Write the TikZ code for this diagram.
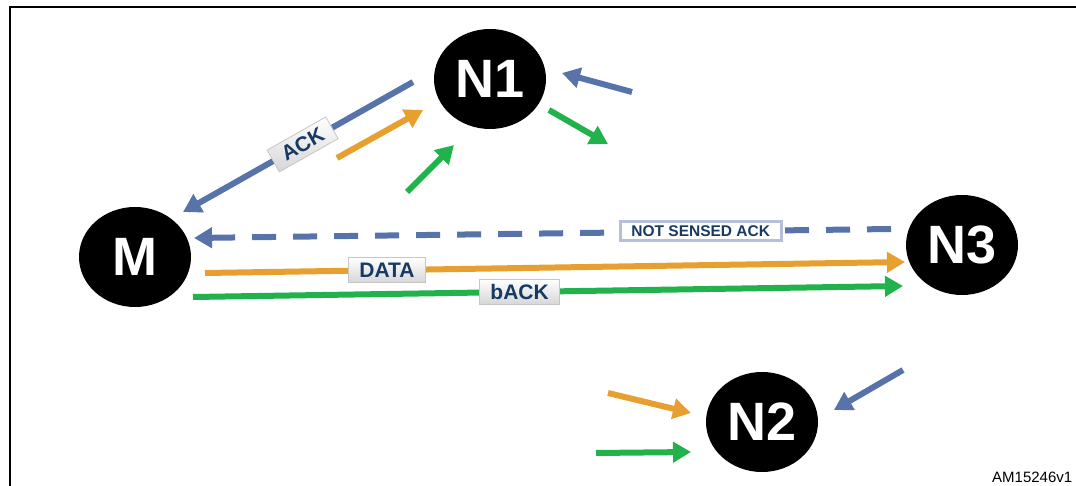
\documentclass[tikz,border=0pt]{standalone}
\usepackage{fontspec}
\setmainfont{Liberation Sans}
\usetikzlibrary{arrows.meta,shapes.geometric}

\definecolor{ackblue}{RGB}{88,114,170}
\definecolor{dataorange}{RGB}{231,160,48}
\definecolor{backgreen}{RGB}{34,178,76}
\definecolor{labelnavy}{RGB}{22,58,100}
\definecolor{tagrim}{RGB}{182,190,216}

\tikzset{
  station/.style={ellipse,fill=black,minimum width=112pt,minimum height=100pt,
    inner sep=0pt,text=white,font=\bfseries\fontsize{54}{54}\selectfont},
  msg/.style={line width=6pt,-{Triangle[length=18pt,width=20pt]}},
  tag/.style={solid,draw=gray!45,line width=0.8pt,top color=white,bottom color=gray!32,
    text=labelnavy,font=\bfseries\fontsize{21}{21}\selectfont,
    inner xsep=11pt,inner ysep=0pt,minimum height=25pt},
  nstag/.style={solid,draw=tagrim,line width=3pt,fill=white,text=labelnavy,
    font=\bfseries\fontsize{15.5}{15.5}\selectfont,inner xsep=11pt,inner ysep=0pt,
    minimum height=19pt}
}

\begin{document}
\begin{tikzpicture}[x=1pt,y=-1pt]
    \useasboundingbox (0,0) rectangle (1076,486);
    % kader
    \draw[line width=2pt] (10,486) -- (10,7) -- (1076,7);
    % stations
    \node[station] (m) at (135,257) {M};
    \node[station] (n1) at (490,79) {N1};
    \node[station] (n2) at (762,422) {N2};
    \node[station] (n3) at (962,245) {N3};
    % coordinaten
    \coordinate (ackA) at (413,82);
    \coordinate (ackB) at (183,212);
    \coordinate (nsA) at (891,229);
    \coordinate (nsB) at (194,238);
    \coordinate (b1A) at (632,92);
    \coordinate (b1B) at (562,73);
    \coordinate (b2A) at (903,370);
    \coordinate (b2B) at (834,410);
    \coordinate (dataA) at (205,273);
    \coordinate (dataB) at (905,262);
    \coordinate (o1A) at (337,158);
    \coordinate (o1B) at (423,110);
    \coordinate (o2A) at (608,393);
    \coordinate (o2B) at (691,413);
    \coordinate (backA) at (193,297);
    \coordinate (backB) at (903,286);
    \coordinate (g1A) at (407,192);
    \coordinate (g1B) at (454,145);
    \coordinate (g2A) at (549,110);
    \coordinate (g2B) at (608,144);
    \coordinate (g3A) at (596,453);
    \coordinate (g3B) at (691,452);
    % ack (blauw)
    \draw[msg,ackblue] (ackA) -- node[tag,sloped,pos=0.48] {ACK} (ackB);
    \draw[msg,ackblue,dash pattern=on 24pt off 17pt] (nsA) -- node[nstag,pos=0.273] {NOT SENSED ACK} (nsB);
    \draw[msg,ackblue] (b1A) -- (b1B);
    \draw[msg,ackblue] (b2A) -- (b2B);
    % data (oranje)
    \draw[msg,dataorange] (dataA) -- node[tag,pos=0.26] {DATA} (dataB);
    \draw[msg,dataorange] (o1A) -- (o1B);
    \draw[msg,dataorange] (o2A) -- (o2B);
    % back (groen)
    \draw[msg,backgreen] (backA) -- node[tag,pos=0.46] {bACK} (backB);
    \draw[msg,backgreen] (g1A) -- (g1B);
    \draw[msg,backgreen] (g2A) -- (g2B);
    \draw[msg,backgreen] (g3A) -- (g3B);
    % referentie
    \node[anchor=base west,font=\fontsize{15}{15}\selectfont,inner sep=0pt] (ref) at (992,482) {AM15246v1};
\end{tikzpicture}
\end{document}
